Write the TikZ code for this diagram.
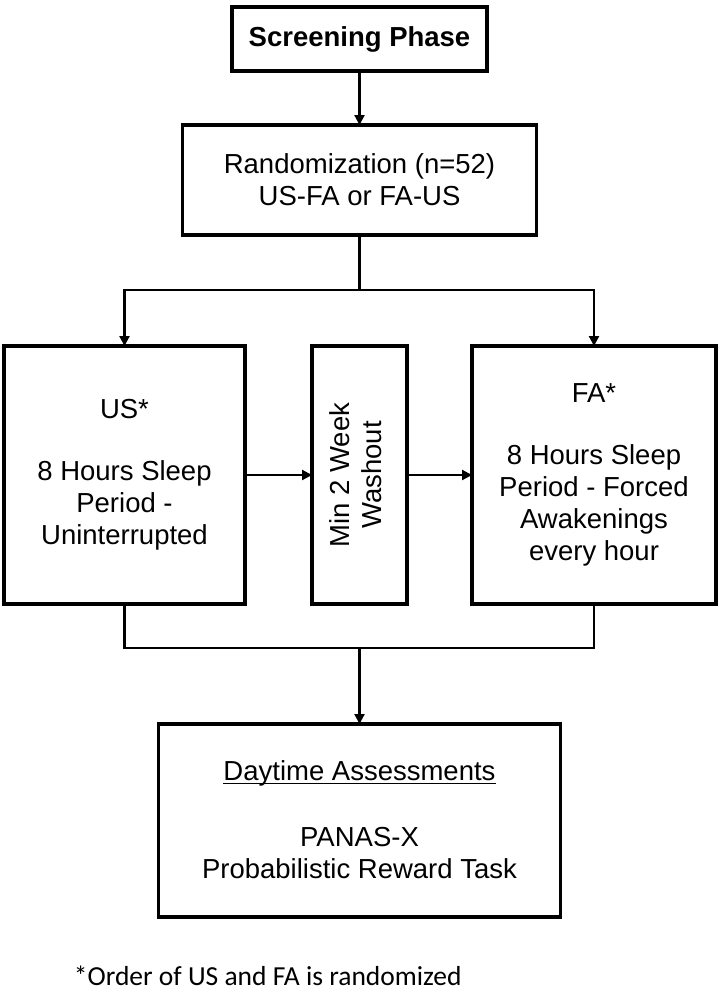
\documentclass[tikz,border=0pt]{standalone}
\usepackage{fontspec}
\usepackage{graphicx}
\setmainfont{Liberation Sans}
\newfontfamily\notefont{Carlito}
\usetikzlibrary{positioning, arrows.meta}

\begin{document}
\begin{tikzpicture}[
        font=\fontsize{13.75pt}{16pt}\selectfont,
        node distance=30pt and 33pt,
        box/.style={rectangle, draw, line width=1.8pt, align=center, inner sep=0pt, outer sep=0pt},
        link/.style={draw, line width=1.1pt},
        arrow/.style={draw, line width=1.1pt, -{Triangle[length=5pt, width=5pt]}}
    ]
    \useasboundingbox (0,0) rectangle (362pt,-498pt);

    % Nodes
    \node (screen) [box, minimum width=127.5pt, minimum height=32pt] at (179.75pt,-19.5pt) {\textbf{Screening Phase}};
    \node (rand) [box, below=27pt of screen, minimum width=177pt, minimum height=55pt] {Randomization (n=52)\\ US-FA or FA-US};
    \node (wash) [box, below=55.5pt of rand, minimum width=47.5pt, minimum height=129pt] {\rotatebox{90}{\begin{tabular}{@{}c@{}}Min 2 Week\\ Washout\end{tabular}}};
    \node (us) [box, left=33.5pt of wash, minimum width=120.5pt, minimum height=129pt] {US*\\[15pt] 8 Hours Sleep\\ Period -\\ Uninterrupted};
    \node (fa) [box, right=32.5pt of wash, minimum width=122pt, minimum height=129pt] {FA*\\[15pt] 8 Hours Sleep\\ Period - Forced\\ Awakenings\\ every hour};

    \coordinate [below=27.5pt of rand] (fork);
    \coordinate [below=22pt of wash] (join);

    \node (day) [box, below=38pt of join, minimum width=201pt, minimum height=96.5pt] {\underline{\vphantom{D}\smash{Daytime Assessments}}\\[17pt] PANAS-X\\ Probabilistic Reward Task};
    \node (note) [below right=24.5pt and -42.5pt of day.south west, inner sep=0pt, font=\fontsize{13.75pt}{16pt}\notefont] {*Order of US and FA is randomized};

    % Arrows
    \draw [arrow] (screen) -- (rand);
    \draw [link] (rand) -- (fork);
    \draw [arrow] (fork) -| (us);
    \draw [arrow] (fork) -| (fa);
    \draw [arrow] (us) -- (wash);
    \draw [arrow] (wash) -- (fa);
    \draw [link] (us.south) |- (join) -| (fa.south);
    \draw [arrow] (join) -- (day);

\end{tikzpicture}
\end{document}
